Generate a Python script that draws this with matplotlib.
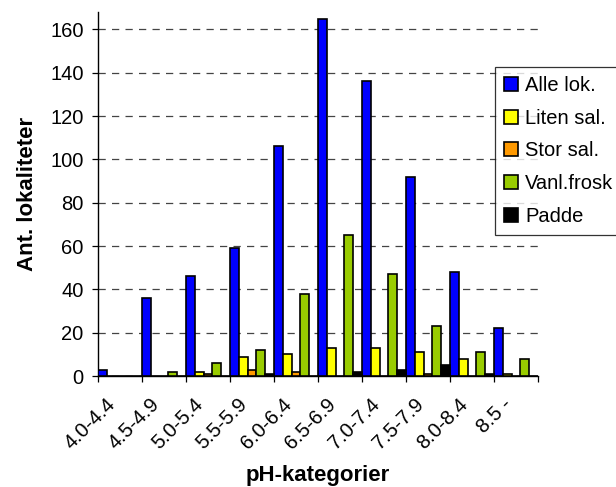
import numpy as np
from matplotlib import pyplot as plt

plt.rcParams['font.family'] = ['Liberation Sans', 'DejaVu Sans']

categories = ['4.0-4.4', '4.5-4.9', '5.0-5.4', '5.5-5.9', '6.0-6.4',
              '6.5-6.9', '7.0-7.4', '7.5-7.9', '8.0-8.4', '8.5 -']

alle_lok = [3, 36, 46, 59, 106, 165, 136, 92, 48, 22]
liten_sal = [0, 0, 2, 9, 10, 13, 13, 11, 8, 1]
stor_sal = [0, 0, 1, 3, 2, 0, 0, 1, 0, 0]
vanl_frosk = [0, 2, 6, 12, 38, 65, 47, 23, 11, 8]
padde = [0, 0, 0, 1, 0, 2, 3, 5, 1, 0]

series = [
    ('Alle lok.', alle_lok, '#0000ff'),
    ('Liten sal.', liten_sal, '#ffff00'),
    ('Stor sal.', stor_sal, '#ff9900'),
    ('Vanl.frosk', vanl_frosk, '#99cc00'),
    ('Padde', padde, '#000000'),
]

fig = plt.figure(figsize=(6.16, 4.87), dpi=100)
ax = fig.add_axes([98 / 616, 1 - 376 / 487, 440 / 616, 364 / 487])

x = np.arange(len(categories))
bar_w = 1 / len(series)

# each group fills its category, starting at the left tick
for k, (name, values, color) in enumerate(series):
    ax.bar(x + k * bar_w, values, width=bar_w, align='edge', color=color,
           edgecolor='black', linewidth=1.2, label=name, zorder=3)

ax.set_xlim(0, len(categories))
ax.set_ylim(0, 168)
ax.set_yticks(range(0, 161, 20))
ax.set_xticks(range(len(categories) + 1))
ax.set_xticklabels([])
ax.set_xticks(x + 0.33, minor=True)
ax.set_xticklabels(categories, minor=True, rotation=45, ha='right',
                   va='center', rotation_mode='anchor', fontsize=14.6)
ax.tick_params(axis='x', which='minor', length=0, pad=18)
ax.tick_params(axis='both', which='major', direction='out', length=4.3,
               width=0.9, labelsize=14.5)
ax.tick_params(axis='y', pad=6)

ax.yaxis.grid(True, color='#444444', linestyle=(0, (5.8, 5)), linewidth=0.9)
ax.set_axisbelow(True)

for side in ['top', 'right']:
    ax.spines[side].set_visible(False)
for side in ['left', 'bottom']:
    ax.spines[side].set_linewidth(1.0)

ax.set_xlabel('pH-kategorier', fontsize=16, fontweight='bold', labelpad=9)
ax.set_ylabel('Ant. lokaliteter', fontsize=16, fontweight='bold', labelpad=9)

leg = fig.legend(loc='upper left', bbox_to_anchor=(495 / 616, 1 - 67 / 487),
                 fontsize=14.5, frameon=True, fancybox=False, borderpad=0.45,
                 labelspacing=0.68, handlelength=0.7, handleheight=0.7,
                 handletextpad=0.35, borderaxespad=0)
leg.get_frame().set_edgecolor('black')
leg.get_frame().set_linewidth(0.9)

fig.savefig('out.png', dpi=100)
